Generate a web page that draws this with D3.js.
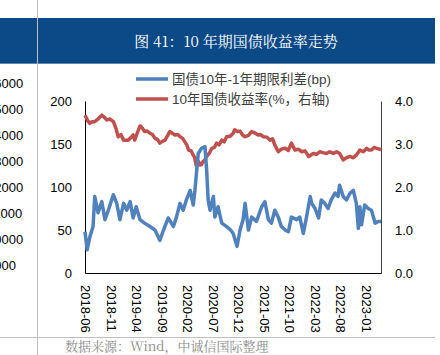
<!DOCTYPE html>
<html><head><meta charset="utf-8">
<script src="https://cdn.jsdelivr.net/npm/d3@7"></script>
<style>
html,body{margin:0;padding:0;background:#fff;}
svg{display:block;}
</style>
</head><body>
<svg id="c" width="440" height="355"></svg>
<script>
// ---- data ----
const titleText = "图 41：10 年期国债收益率走势";
const sourceText = "数据来源：Wind，中诚信国际整理";
const legendLabels = ["国债10年-1年期限利差(bp)", "10年国债收益率(%，右轴)"];
const xTickLabels = ["2018-06","2018-11","2019-04","2019-09","2020-02","2020-07","2020-12","2021-05","2021-10","2022-03","2022-08","2023-01"];
const leftTicks = [0, 50, 100, 150, 200];
const rightTicks = [0, 1, 2, 3, 4];
const neighborLabels = ["16000","15000","14000","13000","12000","11000","10000","9000"];
const xDomain = ["2018-06-01", "2023-03-31"];

const spreadDates = ["2018-06-01","2018-06-14","2018-06-30","2018-07-19","2018-07-29","2018-08-18","2018-09-09","2018-09-28","2018-10-18","2018-11-17","2018-12-07","2018-12-26","2019-01-17","2019-02-05","2019-02-25","2019-03-15","2019-04-02","2019-04-25","2019-05-22","2019-06-23","2019-07-23","2019-08-21","2019-09-12","2019-10-10","2019-11-10","2019-11-28","2019-12-19","2020-01-07","2020-01-26","2020-02-18","2020-03-07","2020-03-17","2020-04-06","2020-04-25","2020-05-16","2020-05-26","2020-06-04","2020-06-15","2020-07-05","2020-07-14","2020-08-02","2020-08-24","2020-09-22","2020-10-16","2020-10-31","2020-11-23","2020-12-11","2020-12-29","2021-01-10","2021-01-30","2021-02-18","2021-03-19","2021-04-19","2021-05-08","2021-05-29","2021-06-16","2021-07-06","2021-07-27","2021-08-14","2021-09-06","2021-09-25","2021-10-13","2021-11-13","2021-12-02","2021-12-23","2022-01-11","2022-02-02","2022-02-11","2022-03-03","2022-03-24","2022-04-09","2022-04-29","2022-05-20","2022-06-07","2022-06-30","2022-07-18","2022-07-27","2022-08-18","2022-09-06","2022-09-28","2022-10-17","2022-11-04","2022-11-16","2022-11-25","2022-12-05","2022-12-24","2023-01-14","2023-02-02","2023-02-24","2023-03-14","2023-03-31"];
const spreadValues = [48,27,42,54,89,70,83,62,73,91,81,62,81,73,83,64,77,62,58,54,50,38,50,64,54,65,81,73,85,96,79,96,139,145,147,120,85,73,89,65,77,58,54,50,46,31,50,62,81,50,65,60,77,83,62,58,73,65,54,50,48,65,62,65,46,65,89,81,75,64,85,81,75,85,93,89,102,89,85,93,96,81,52,77,56,79,75,73,58,60,60];

const yieldDates = ["2018-06-01","2018-06-16","2018-06-30","2018-07-13","2018-07-29","2018-08-17","2018-09-09","2018-09-24","2018-10-09","2018-10-28","2018-11-17","2018-12-01","2018-12-16","2019-01-01","2019-01-17","2019-02-14","2019-03-02","2019-03-15","2019-03-24","2019-04-08","2019-04-25","2019-05-07","2019-05-22","2019-06-07","2019-06-23","2019-07-08","2019-07-23","2019-08-08","2019-08-21","2019-09-05","2019-09-21","2019-10-07","2019-10-19","2019-11-03","2019-11-19","2019-12-05","2019-12-20","2020-01-04","2020-01-17","2020-01-29","2020-02-08","2020-02-24","2020-03-07","2020-03-15","2020-03-24","2020-04-06","2020-04-16","2020-04-25","2020-05-04","2020-05-13","2020-05-26","2020-06-10","2020-06-26","2020-07-11","2020-07-24","2020-08-08","2020-08-24","2020-09-08","2020-09-22","2020-10-13","2020-10-31","2020-11-09","2020-11-26","2020-12-11","2020-12-26","2021-01-10","2021-01-30","2021-02-18","2021-03-08","2021-03-28","2021-04-12","2021-04-28","2021-05-20","2021-06-07","2021-06-23","2021-07-06","2021-07-27","2021-08-14","2021-09-06","2021-09-25","2021-10-13","2021-10-22","2021-11-04","2021-11-23","2021-12-14","2022-01-02","2022-01-24","2022-02-05","2022-02-20","2022-03-12","2022-03-31","2022-04-19","2022-05-11","2022-05-29","2022-06-20","2022-07-09","2022-07-27","2022-08-18","2022-09-06","2022-09-28","2022-10-17","2022-11-04","2022-11-25","2022-12-15","2023-01-05","2023-01-17","2023-02-02","2023-02-18","2023-03-06","2023-03-21","2023-03-31"];
const yieldValues = [3.67,3.55,3.48,3.52,3.52,3.58,3.67,3.62,3.56,3.58,3.52,3.38,3.17,3.22,3.09,3.09,3.15,3.21,3.09,3.25,3.42,3.38,3.29,3.30,3.25,3.22,3.13,3.10,3.02,3.06,3.09,3.20,3.29,3.25,3.21,3.22,3.17,3.13,3.05,2.98,2.86,2.84,2.74,2.69,2.51,2.60,2.51,2.52,2.59,2.62,2.71,2.78,2.90,2.92,3.02,2.98,3.09,3.05,3.17,3.18,3.25,3.33,3.29,3.30,3.21,3.17,3.20,3.29,3.26,3.21,3.22,3.17,3.16,3.09,3.12,2.98,2.82,2.88,2.90,2.85,3.02,2.95,2.86,2.88,2.82,2.84,2.71,2.74,2.78,2.76,2.82,2.80,2.78,2.82,2.78,2.82,2.78,2.63,2.68,2.71,2.68,2.74,2.86,2.82,2.90,2.86,2.86,2.92,2.90,2.88,2.86];

// ---- drawing ----
const svg = d3.select("#c");
const W = 440, H = 355;
const P = {left: 85, right: 381, top: 101, bottom: 273};
const parse = d3.timeParse("%Y-%m-%d");
const parseM = d3.timeParse("%Y-%m");
const blue = "#4F81BD", red = "#C0504D";
const numFont = "'Liberation Sans', 'Noto Sans CJK SC', sans-serif";

// page frame
svg.append("rect").attr("x",0).attr("y",18).attr("width",435).attr("height",46).attr("fill","#0C4A87");
svg.append("line").attr("x1",0).attr("x2",435).attr("y1",63.5).attr("y2",63.5).attr("stroke","#5A86B5").attr("stroke-width",1);
svg.append("line").attr("x1",37.5).attr("x2",37.5).attr("y1",0).attr("y2",H).attr("stroke","#BFBFBF").attr("stroke-width",1);
svg.append("line").attr("x1",0).attr("x2",435).attr("y1",337.5).attr("y2",337.5).attr("stroke","#BFBFBF").attr("stroke-width",1);

svg.append("text").attr("x",236).attr("y",47).attr("text-anchor","middle")
  .attr("fill","#fff").attr("font-size",15).attr("font-family","'Noto Serif CJK SC','Noto Sans CJK SC',serif")
  .text(titleText);
svg.append("text").attr("x",65).attr("y",351).attr("fill","#8C8C8C").attr("font-size",13)
  .attr("font-family","'Noto Serif CJK SC','Noto Sans CJK SC',serif").text(sourceText);

// neighbour column labels (clipped at left edge, as in the reference)
svg.selectAll("text.nb").data(neighborLabels).join("text").attr("class","nb")
  .attr("x",-13).attr("y",(d,i)=>83 + i*26).attr("dy","0.35em")
  .attr("font-size",13).attr("font-family",numFont).attr("fill","#000").text(d=>d);

// scales
const x = d3.scaleTime().domain(xDomain.map(parse)).range([P.left, P.right]);
const yL = d3.scaleLinear().domain([0,200]).range([P.bottom, P.top]);
const yR = d3.scaleLinear().domain([0,4]).range([P.bottom, P.top]);

// axes
const gL = svg.append("g").attr("transform",`translate(${P.left},0)`)
  .call(d3.axisLeft(yL).tickValues(leftTicks).tickSize(0).tickPadding(13));
const gR = svg.append("g").attr("transform",`translate(${P.right},0)`)
  .call(d3.axisRight(yR).tickValues(rightTicks).tickSize(0).tickPadding(14).tickFormat(d3.format(".1f")));
const gB = svg.append("g").attr("transform",`translate(0,${P.bottom})`)
  .call(d3.axisBottom(x).tickValues(xTickLabels.map(parseM)).tickSize(0).tickFormat(d3.timeFormat("%Y-%m")));
[gL,gR,gB].forEach(g=>{
  g.selectAll("text").attr("font-size",13).attr("font-family",numFont).attr("fill","#000");
});
gL.select(".domain").attr("stroke","#000");
gR.select(".domain").attr("stroke","#404040");
gB.select(".domain").attr("stroke","#000");
gB.selectAll(".tick text").attr("transform","rotate(90)").attr("text-anchor","start")
  .attr("x",12).attr("y",0).attr("dy","0.35em");

// lines
const spreadData = spreadDates.map((d,i)=>({d:parse(d), v:spreadValues[i]}));
const yieldData = yieldDates.map((d,i)=>({d:parse(d), v:yieldValues[i]}));
svg.append("path").datum(yieldData).attr("fill","none").attr("stroke",red).attr("stroke-width",3.5)
  .attr("stroke-linejoin","round").attr("d", d3.line().x(p=>x(p.d)).y(p=>yR(p.v)));
svg.append("path").datum(spreadData).attr("fill","none").attr("stroke",blue).attr("stroke-width",3.5)
  .attr("stroke-linejoin","round").attr("d", d3.line().x(p=>x(p.d)).y(p=>yL(p.v)));

// legend
const leg = svg.append("g");
[blue, red].forEach((c,i)=>{
  const yy = 79 + i*20;
  leg.append("line").attr("x1",136).attr("x2",168).attr("y1",yy).attr("y2",yy).attr("stroke",c).attr("stroke-width",3.5);
  leg.append("text").attr("x",172).attr("y",yy).attr("dy","0.35em").attr("font-size",13.5)
    .attr("font-family",numFont).attr("fill","#404040").text(legendLabels[i]);
});
</script>
</body></html>
